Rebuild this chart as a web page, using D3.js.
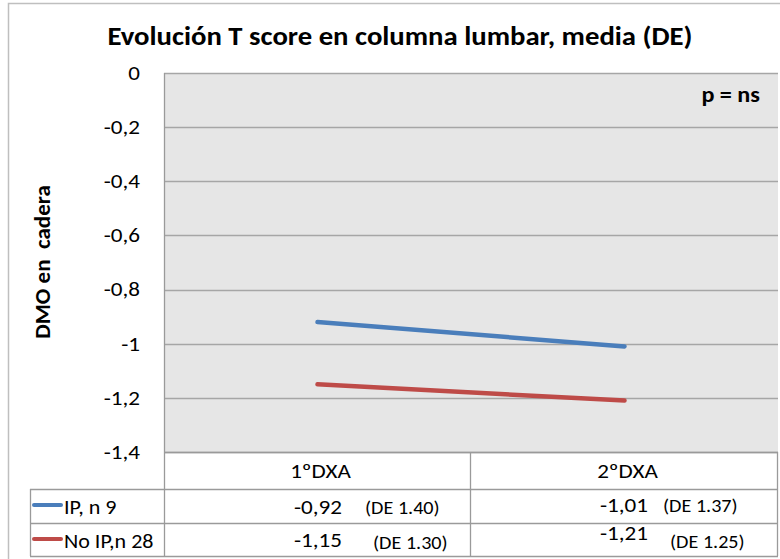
<!DOCTYPE html>
<html>
<head>
<meta charset="utf-8">
<script src="https://cdn.jsdelivr.net/npm/d3@7"></script>
<style>
  html, body { margin: 0; padding: 0; background: #fff; }
  svg { display: block; }
  text { font-family: Carlito, Calibri, "Open Sans", "Noto Sans", sans-serif; fill: #000; }
</style>
</head>
<body>
<svg id="chart" width="780" height="559"></svg>
<script>
// Chart data
const categories = ["1ºDXA", "2ºDXA"];
const seriesNames = ["IP, n 9", "No IP,n 28"];
const seriesIP = [-0.92, -1.01];
const seriesNoIP = [-1.15, -1.21];
const sdIP = ["1.40", "1.37"];
const sdNoIP = ["1.30", "1.25"];
const yTicks = [0, -0.2, -0.4, -0.6, -0.8, -1, -1.2, -1.4];
const colors = ["#4a7ebb", "#be4b48"];

const series = [
  { name: seriesNames[0], values: seriesIP, sd: sdIP, color: colors[0] },
  { name: seriesNames[1], values: seriesNoIP, sd: sdNoIP, color: colors[1] }
];

const fmt = v => String(v).replace(".", ",");

// Widen glyphs slightly so the narrow face fills the same room as the layout expects
const SX = 1.1;
function widen(sel, k = SX) {
  sel.each(function () {
    const w = this.getComputedTextLength();
    if (w > 0) {
      this.setAttribute("textLength", (w * k).toFixed(1));
      this.setAttribute("lengthAdjust", "spacingAndGlyphs");
    }
  });
  return sel;
}

const svg = d3.select("#chart");

// Layout
const plot = { left: 164, right: 778, top: 73, bottom: 452 };
const table = { left: 30, headerBottom: 489, rowBottoms: [523, 556] };

const x = d3.scaleBand().domain(categories).range([plot.left, plot.right]);
const y = d3.scaleLinear().domain([-1.4, 0]).range([plot.bottom, plot.top]);

// Outer frame
svg.append("rect")
  .attr("x", 8.5).attr("y", 3.5).attr("width", 800).attr("height", 600)
  .attr("fill", "#fff").attr("stroke", "#bfbfbf").attr("stroke-width", 1.5);

// Plot background
svg.append("rect")
  .attr("x", plot.left).attr("y", plot.top)
  .attr("width", plot.right - plot.left).attr("height", plot.bottom - plot.top)
  .attr("fill", "#e6e6e6");

// Gridlines
svg.append("g").selectAll("line").data(yTicks).join("line")
  .attr("x1", plot.left).attr("x2", plot.right)
  .attr("y1", d => Math.round(y(d)) + 0.5).attr("y2", d => Math.round(y(d)) + 0.5)
  .attr("stroke", "#a6a6a6").attr("stroke-width", 1.3);

// Y axis labels
const yAxis = d3.axisLeft(y).tickValues(yTicks).tickSize(0).tickPadding(0).tickFormat(fmt);
const gy = svg.append("g").attr("transform", `translate(140,0)`).call(yAxis);
gy.select(".domain").remove();
gy.selectAll("text")
  .attr("font-size", 21).attr("fill", "#000").attr("dy", "0.3em")
  .style("font-family", 'Carlito, Calibri, "Open Sans", sans-serif')
  .call(widen);

// Y axis title
svg.append("text")
  .attr("transform", "translate(50,262) rotate(-90)")
  .attr("text-anchor", "middle")
  .attr("font-size", 23).attr("font-weight", "bold")
  .attr("xml:space", "preserve")
  .text("DMO en  cadera");

// Title
svg.append("text")
  .attr("x", 400).attr("y", 45)
  .attr("text-anchor", "middle")
  .attr("font-size", 27).attr("font-weight", "bold")
  .attr("textLength", 585).attr("lengthAdjust", "spacingAndGlyphs")
  .text("Evolución T score en columna lumbar, media (DE)");

// Annotation
svg.append("text")
  .attr("x", 760).attr("y", 102)
  .attr("text-anchor", "end")
  .attr("font-size", 22).attr("font-weight", "bold")
  .text("p = ns")
  .call(widen);

// Lines
const line = d3.line()
  .x((d, i) => x(categories[i]) + x.bandwidth() / 2)
  .y(d => y(d));

svg.append("g").selectAll("path").data(series).join("path")
  .attr("d", d => line(d.values))
  .attr("fill", "none")
  .attr("stroke", d => d.color)
  .attr("stroke-width", 4.5)
  .attr("stroke-linecap", "round");

// Data table
const gridColor = "#9a9a9a";
const tg = svg.append("g").attr("stroke", gridColor).attr("stroke-width", 1.3);
tg.append("line").attr("x1", plot.left).attr("x2", plot.right).attr("y1", plot.bottom + 0.5).attr("y2", plot.bottom + 0.5);
[table.headerBottom, ...table.rowBottoms].forEach(yy => {
  tg.append("line").attr("x1", table.left).attr("x2", plot.right).attr("y1", yy + 0.5).attr("y2", yy + 0.5);
});
tg.append("line").attr("x1", table.left + 0.5).attr("x2", table.left + 0.5).attr("y1", table.headerBottom).attr("y2", table.rowBottoms[1]);
tg.append("line").attr("x1", plot.left + 0.5).attr("x2", plot.left + 0.5).attr("y1", plot.top).attr("y2", table.rowBottoms[1]);
categories.forEach(c => {
  const xr = x(c) + x.bandwidth();
  tg.append("line").attr("x1", xr - 0.5).attr("x2", xr - 0.5).attr("y1", plot.bottom).attr("y2", table.rowBottoms[1]);
});

// Header labels
svg.append("g").selectAll("text").data(categories).join("text")
  .attr("x", d => x(d) + x.bandwidth() / 2 + 3)
  .attr("y", 478)
  .attr("text-anchor", "middle")
  .attr("font-size", 21)
  .text(d => d)
  .call(widen);

// Rows: legend key, mean value and (DE) per visit
const legendY = [505, 539];
const valueBase = [[514, 512], [547, 540]];
const sdBase = [[514, 512], [549, 548]];
const sdStart = [[365, 663], [373, 670]];
series.forEach((s, r) => {
  svg.append("line")
    .attr("x1", 34).attr("x2", 61).attr("y1", legendY[r]).attr("y2", legendY[r])
    .attr("stroke", s.color).attr("stroke-width", 4).attr("stroke-linecap", "round");
  svg.append("text")
    .attr("x", 64).attr("y", legendY[r] + 9)
    .attr("font-size", 21)
    .text(s.name)
    .call(widen, 1.05);
  categories.forEach((c, i) => {
    svg.append("text")
      .attr("x", x(c) + 178 - i).attr("y", valueBase[r][i])
      .attr("text-anchor", "end")
      .attr("font-size", 21)
      .text(fmt(s.values[i]))
      .call(widen);
    svg.append("text")
      .attr("x", sdStart[r][i])
      .attr("y", sdBase[r][i])
      .attr("font-size", 17.5)
      .text(`(DE ${s.sd[i]})`)
      .call(widen, 1.15);
  });
});
</script>
</body>
</html>
